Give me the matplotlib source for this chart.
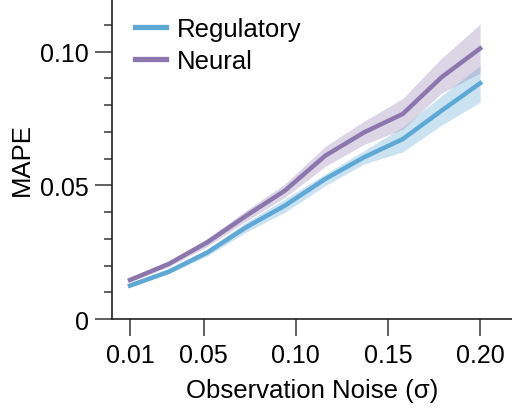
import matplotlib
matplotlib.use("Agg")
import matplotlib.pyplot as plt
from matplotlib.ticker import MultipleLocator, FuncFormatter

noise = [0.01, 0.031, 0.052, 0.073, 0.094, 0.116, 0.137, 0.158, 0.179, 0.20]

reg_mean = [0.0125, 0.0177, 0.0249, 0.0343, 0.0424, 0.0524, 0.0605, 0.0673, 0.0779, 0.0882]
reg_low = [0.0119, 0.0169, 0.0236, 0.0325, 0.0399, 0.0499, 0.0580, 0.0625, 0.0725, 0.0811]
reg_high = [0.0131, 0.0186, 0.0262, 0.0362, 0.0449, 0.0543, 0.0630, 0.0718, 0.0835, 0.0948]

neu_mean = [0.0146, 0.0206, 0.0287, 0.0386, 0.0480, 0.0611, 0.0698, 0.0767, 0.0904, 0.1012]
neu_low = [0.0139, 0.0196, 0.0272, 0.0366, 0.0455, 0.0571, 0.0653, 0.0710, 0.0845, 0.0920]
neu_high = [0.0153, 0.0216, 0.0302, 0.0406, 0.0505, 0.0646, 0.0740, 0.0825, 0.0975, 0.1103]

x_ticks = [0.01, 0.05, 0.10, 0.15, 0.20]
x_ticklabels = ["0.01", "0.05", "0.10", "0.15", "0.20"]

blue = "#5ea8d6"
purple = "#8c76ae"

plt.rcParams["font.family"] = ["Liberation Sans", "DejaVu Sans"]

fig = plt.figure(figsize=(5.12, 4.14), dpi=100)
ax = fig.add_axes([0.219, 0.227, 0.781, 0.773])

ax.fill_between(noise, reg_low, reg_high, color=blue, alpha=0.32, linewidth=0)
ax.fill_between(noise, neu_low, neu_high, color=purple, alpha=0.3, linewidth=0)
ax.plot(noise, reg_mean, color=blue, lw=3.2, label="Regulatory")
ax.plot(noise, neu_mean, color=purple, lw=3.2, label="Neural")

ax.set_xlim(0.0003, 0.2173)
ax.set_ylim(0, 0.1197)
ax.set_xticks(x_ticks)
ax.set_xticklabels(x_ticklabels)
ax.yaxis.set_major_locator(MultipleLocator(0.05))
ax.yaxis.set_minor_locator(MultipleLocator(0.01))
ax.yaxis.set_major_formatter(FuncFormatter(lambda v, p: "0" if abs(v) < 1e-9 else "%.2f" % v))

for s in ["top", "right"]:
    ax.spines[s].set_visible(False)
for s in ["left", "bottom"]:
    ax.spines[s].set_linewidth(1.2)
    ax.spines[s].set_color("#222222")

ax.tick_params(axis="both", which="major", length=12, width=1.2, labelsize=18, pad=5, color="#444444")
ax.tick_params(axis="y", which="minor", length=6, width=1.2, color="#444444")

ax.set_xlabel("Observation Noise (σ)", fontsize=18.5, labelpad=8)
ax.set_ylabel("MAPE", fontsize=18.5, labelpad=4)

ax.legend(loc="upper left", frameon=False, fontsize=18.5, handlelength=1.2,
          handletextpad=0.42, borderaxespad=0.3, labelspacing=0.3,
          bbox_to_anchor=(0.012, 1.0))
leg = ax.get_legend()
for line in leg.get_lines():
    line.set_linewidth(3.8)

fig.savefig("out.png", dpi=100)
